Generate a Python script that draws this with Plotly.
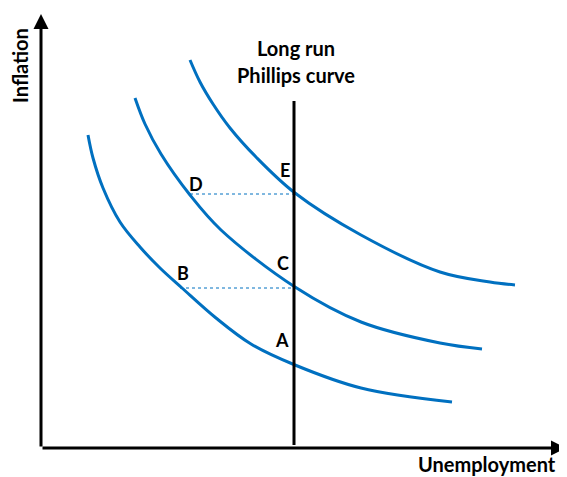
import plotly.graph_objects as go

# values (arbitrary units, origin at the axes corner)
srpc1_u = [47, 52, 62, 79, 99, 119, 141, 175, 210, 254, 320, 411]
srpc1_i = [313, 290, 260, 226, 201, 180, 160, 130, 104, 83, 60, 46]

srpc2_u = [94, 104, 120, 149, 180, 254, 320, 399, 441]
srpc2_i = [350, 324, 294, 253, 218, 161, 126, 105, 99]

srpc3_u = [149, 159, 172, 189, 215, 254, 320, 399, 449, 474]
srpc3_i = [388, 366, 344, 320, 291, 255, 213, 176, 166, 163]

lrpc_u = 253
lrpc_i = [3, 347]

# dotted guides: (start u, inflation level)
guides = [(149, 254), (139, 160)]

points = ["E", "D", "C", "B", "A"]
point_u = [244, 155, 242, 142, 241]
point_i = [278, 264, 185, 175, 108]

BLUE = "#0070C0"
FONT = "Lato"

fig = go.Figure()

for u, i in [(srpc1_u, srpc1_i), (srpc2_u, srpc2_i), (srpc3_u, srpc3_i)]:
    fig.add_trace(go.Scatter(x=u, y=i, mode="lines",
                             line=dict(color=BLUE, width=3, shape="spline", smoothing=1.0),
                             hoverinfo="skip"))

for u0, lvl in guides:
    fig.add_trace(go.Scatter(x=[u0, lrpc_u], y=[lvl, lvl], mode="lines",
                             line=dict(color=BLUE, width=1, dash="dot"),
                             hoverinfo="skip"))

fig.add_trace(go.Scatter(x=[lrpc_u, lrpc_u], y=lrpc_i, mode="lines",
                         line=dict(color="black", width=3), hoverinfo="skip"))

# axes with arrowheads
fig.add_annotation(x=0, y=434, ax=0, ay=0, xref="x", yref="y", axref="x", ayref="y",
                   text="", showarrow=True, arrowhead=2, arrowsize=1, arrowwidth=3,
                   arrowcolor="black")
fig.add_annotation(x=525, y=0, ax=0, ay=0, xref="x", yref="y", axref="x", ayref="y",
                   text="", showarrow=True, arrowhead=2, arrowsize=1, arrowwidth=3,
                   arrowcolor="black")

for t, u, i in zip(points, point_u, point_i):
    fig.add_annotation(x=u, y=i, text="<b>%s</b>" % t, showarrow=False,
                       font=dict(family=FONT, size=18, color="black"))

fig.add_annotation(x=255, y=400, text="<b>Long run</b>", showarrow=False,
                   font=dict(family=FONT, size=20, color="black"))
fig.add_annotation(x=255, y=373, text="<b>Phillips curve</b>", showarrow=False,
                   font=dict(family=FONT, size=20, color="black"))
fig.add_annotation(x=-21, y=382, text="<b>Inflation</b>", showarrow=False, textangle=-90,
                   font=dict(family=FONT, size=20, color="black"))
fig.add_annotation(x=446, y=-16, text="<b>Unemployment</b>", showarrow=False,
                   font=dict(family=FONT, size=20, color="black"))

# page body adds an 8px margin, so the figure is 8px smaller each way
fig.update_layout(
    width=559, height=469,
    margin=dict(l=0, r=0, t=0, b=0),
    paper_bgcolor="white", plot_bgcolor="white",
    showlegend=False,
    xaxis=dict(range=[-33, 526], visible=False, fixedrange=True),
    yaxis=dict(range=[-29, 440], visible=False, fixedrange=True),
)

fig.write_html("out.html")
